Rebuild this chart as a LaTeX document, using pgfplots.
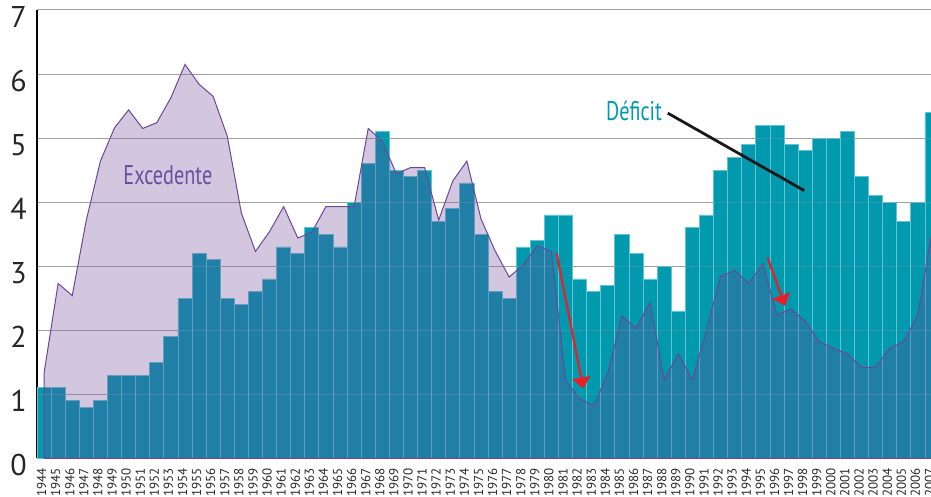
\documentclass[border=0pt]{standalone}
\usepackage{pgfplots}
\pgfplotsset{compat=1.18}
\usepackage{fontspec}
\setmainfont{PT Sans}
\newfontfamily\condfont[FakeStretch=0.75]{PT Sans}
\usetikzlibrary{arrows.meta}
\definecolor{tealbar}{RGB}{0,153,173}
\definecolor{tealedge}{RGB}{100,195,208}
\definecolor{purp}{RGB}{109,70,153}
\definecolor{purptext}{RGB}{104,78,158}
\definecolor{redarr}{RGB}{232,30,40}
\definecolor{gridgray}{RGB}{160,160,160}

\pgfplotstableread{
year val
1944 1.1
1945 1.1
1946 0.9
1947 0.8
1948 0.9
1949 1.3
1950 1.3
1951 1.3
1952 1.5
1953 1.9
1954 2.5
1955 3.2
1956 3.1
1957 2.5
1958 2.4
1959 2.6
1960 2.8
1961 3.3
1962 3.2
1963 3.6
1964 3.5
1965 3.3
1966 4.0
1967 4.6
1968 5.1
1969 4.5
1970 4.4
1971 4.5
1972 3.7
1973 3.9
1974 4.3
1975 3.5
1976 2.6
1977 2.5
1978 3.3
1979 3.4
1980 3.8
1981 3.8
1982 2.8
1983 2.6
1984 2.7
1985 3.5
1986 3.2
1987 2.8
1988 3.0
1989 2.3
1990 3.6
1991 3.8
1992 4.5
1993 4.7
1994 4.9
1995 5.2
1996 5.2
1997 4.9
1998 4.8
1999 5.0
2000 5.0
2001 5.1
2002 4.4
2003 4.1
2004 4.0
2005 3.7
2006 4.0
2007 5.4
}\deficit

\pgfplotstableread{
year val
1944 1.33
1945 2.73
1946 2.54
1947 3.72
1948 4.64
1949 5.16
1950 5.44
1951 5.15
1952 5.24
1953 5.63
1954 6.15
1955 5.84
1956 5.65
1957 5.03
1958 3.83
1959 3.23
1960 3.54
1961 3.93
1962 3.44
1963 3.53
1964 3.93
1965 3.93
1966 3.93
1967 5.15
1968 4.95
1969 4.44
1970 4.54
1971 4.54
1972 3.72
1973 4.33
1974 4.64
1975 3.74
1976 3.24
1977 2.83
1978 3.02
1979 3.32
1980 3.23
1981 1.22
1982 0.93
1983 0.82
1984 1.33
1985 2.22
1986 2.03
1987 2.43
1988 1.22
1989 1.63
1990 1.22
1991 2.00
1992 2.84
1993 2.93
1994 2.73
1995 3.04
1996 2.24
1997 2.33
1998 2.14
1999 1.82
2000 1.72
2001 1.63
2002 1.42
2003 1.42
2004 1.72
2005 1.82
2006 2.24
2007 3.55
}\excedente

\begin{document}
\begin{tikzpicture}
\begin{axis}[
  at={(0pt,0pt)}, anchor=south west,
  scale only axis, width=894pt, height=448.3pt,
  xmin=1943.5, xmax=2006.93, ymin=0, ymax=7,
  axis x line*=bottom, axis y line*=left,
  axis line style={-},
  x axis line style={tealbar, line width=2pt},
  y axis line style={black, line width=2pt},
  xtick=data,
  ytick={0,1,2,3,4,5,6,7},
  xtick style={draw=none}, ytick style={draw=none},
  /pgf/number format/assume math mode=true,
  /pgf/number format/1000 sep={},
  xticklabel style={yshift=-10pt, xshift=-2.5pt, rotate=90, anchor=east, inner sep=0pt,
    font=\fontsize{13}{13}\selectfont, text=black!85},
  yticklabel style={anchor=east, inner sep=0pt, xshift=-10pt, yshift=-7pt,
    font=\fontsize{30}{30}\selectfont, text=black!85},
  ymajorgrids, grid style={gridgray, line width=1pt},
]
\addplot[ybar, bar width=1, fill=tealbar, draw=tealedge, line width=0.8pt] table[x=year, y=val] {\deficit};
\addplot[draw=purp, line width=1pt, fill=purp, fill opacity=0.3] table[x=year, y=val] {\excedente} \closedcycle;

\foreach \g in {1,...,6} {
  \edef\temp{\noexpand\draw[gridgray, opacity=0.25, line width=1pt] (axis cs:1943.5,\g) -- (axis cs:2006.93,\g);}
  \temp
}

\node[anchor=base, font=\condfont\fontsize{27}{27}\selectfont, text=purptext] at (axis cs:1952.79,4.27) {Excedente};
\node[anchor=base, font=\condfont\fontsize{27}{27}\selectfont, text=tealbar] at (axis cs:1985.86,5.28) {Déficit};
\draw[black!90, line width=2.8pt] (axis cs:1988.25,5.39) -- (axis cs:1997.94,4.18);
\draw[redarr, line width=2.2pt, -{Triangle[width=18pt,length=11pt]}] (axis cs:1980.37,3.20) -- (axis cs:1982.26,1.09);
\draw[redarr, line width=2.2pt, -{Triangle[width=18pt,length=11pt]}] (axis cs:1995.34,3.13) -- (axis cs:1996.57,2.38);
\coordinate (t2007) at (axis cs:2007,0);
\end{axis}
\node[yshift=-10pt, xshift=-2.5pt, rotate=90, anchor=east, inner sep=0pt, font=\fontsize{13}{13}\selectfont, text=black!85] at (t2007) {2007};
\pgfresetboundingbox
\useasboundingbox (-37pt,-38.7pt) rectangle (894pt,458.3pt);
\end{tikzpicture}
\end{document}
